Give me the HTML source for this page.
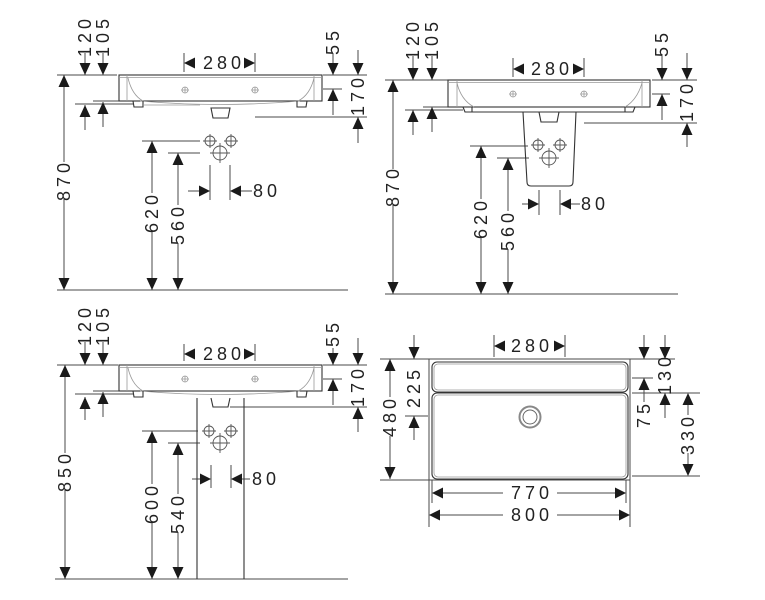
<!DOCTYPE html>
<html><head><meta charset="utf-8"><style>
html,body{margin:0;padding:0;background:#fff;}
svg{display:block;}
.l{stroke:#4a4a4a;stroke-width:1;fill:none;}
.s{stroke:#333;stroke-width:1.1;fill:none;}
.g{stroke:#999;stroke-width:0.8;fill:none;}
.h{stroke:#555;stroke-width:0.9;fill:none;}
text{font-family:"Liberation Sans",sans-serif;font-size:18px;letter-spacing:4px;fill:#222;}
.a{fill:#1a1a1a;}
</style></head><body>
<svg width="765" height="600" viewBox="0 0 765 600" xmlns="http://www.w3.org/2000/svg">
<defs>
<path id="ad" class="a" d="M-5.5,-12L5.5,-12L0,0Z"/>
<path id="au" class="a" d="M-5.5,12L5.5,12L0,0Z"/>
<path id="al" class="a" d="M11,-5.5L11,5.5L0,0Z"/>
<path id="ar" class="a" d="M-11,-5.5L-11,5.5L0,0Z"/>
<g id="hs" class="h"><circle r="5"/><path d="M-7,0H7M0,-7V7"/></g>
<g id="hb" class="h"><circle r="7"/><path d="M-10,0H10M0,-10V10"/></g>
<g id="ht" class="g"><circle r="3"/><path d="M-4,0H4M0,-3V3"/></g>
</defs>

<!-- ============ Q1 ============ -->
<path class="l" d="M57,75H117M323,75H367M64,75V162M64,198V290M57,290H348M85,53V75M85,105V130M103,53V75M103,102V127M93,101H119M75,104H133M333,53V75M358,50V75M333,89V115M323,89H342M358,117V143M255,117H367M184,53V72M255,53V72M142,141H200M152,141V193M152,231V290M168,153H200M178,153V205M178,243V290M210,165V200M230,165V200M188,191H199M241,191H252"/>
<!-- sink -->
<rect class="s" x="119" y="75" width="203" height="26"/>
<path class="g" d="M119,77.5H322M127,75V101M314,75V101M128,78Q132,95 143,101M314,78Q310,95 298,101M140,101Q220,108 300,101"/>
<path class="s" d="M133,101L134,107L143,107L143,101M297,101L297,107L306,107L307,101M211,108L213,118L228,118L230,108Z"/>
<path class="g" d="M143,105H200"/>
<use href="#ht" x="185" y="90"/><use href="#ht" x="255" y="90"/>
<use href="#hs" x="210" y="141"/><use href="#hs" x="231" y="141"/><use href="#hb" x="220" y="153"/>
<use href="#ad" x="85" y="75"/><use href="#ad" x="103" y="75"/><use href="#ad" x="333" y="75"/><use href="#ad" x="358" y="75"/><use href="#ad" x="64" y="290"/><use href="#ad" x="152" y="290"/><use href="#ad" x="178" y="290"/>
<use href="#au" x="64" y="75"/><use href="#au" x="85" y="105"/><use href="#au" x="103" y="102"/><use href="#au" x="333" y="89"/><use href="#au" x="358" y="117"/><use href="#au" x="152" y="141"/><use href="#au" x="178" y="153"/>
<use href="#al" x="184" y="63"/><use href="#al" x="230" y="191"/>
<use href="#ar" x="255" y="63"/><use href="#ar" x="210" y="191"/>
<text x="224" y="63" text-anchor="middle" dominant-baseline="central">280</text>
<text x="253" y="191" dominant-baseline="central">80</text>
<text transform="translate(85,36) rotate(-90)" text-anchor="middle" dominant-baseline="central">120</text>
<text transform="translate(103,36) rotate(-90)" text-anchor="middle" dominant-baseline="central">105</text>
<text transform="translate(333,41) rotate(-90)" text-anchor="middle" dominant-baseline="central">55</text>
<text transform="translate(358,95) rotate(-90)" text-anchor="middle" dominant-baseline="central">170</text>
<text transform="translate(64,180) rotate(-90)" text-anchor="middle" dominant-baseline="central">870</text>
<text transform="translate(152,212) rotate(-90)" text-anchor="middle" dominant-baseline="central">620</text>
<text transform="translate(178,224) rotate(-90)" text-anchor="middle" dominant-baseline="central">560</text>

<!-- ============ Q2 ============ -->
<path class="l" d="M385,80H448M652,80H697M393,80V169M393,204V294M385,294H678M413,56V80M413,110V135M432,56V80M432,107V132M423,107H463M405,110H463M662,54V80M687,53V80M662,94V120M652,94H670M687,123V147M584,123H697M513,58V77M584,58V77M470,146H528M481,146V199M481,238V294M497,158H529M508,158V211M508,249V294M539,190V215M560,190V215M522,204H528M571,204H580"/>
<rect class="s" x="448" y="80" width="202" height="27"/>
<path class="g" d="M448,82.5H650M457,80V107M642,80V107M457,83Q461,100 474,107M642,83Q637,100 625,107"/>
<path class="s" d="M463,107L465,112L633,112L635,107M472,107V112M625,107V112"/>
<path class="s" d="M523,112L527,182Q527,186 531,186L569,186Q573,186 573,182L576,112M539,112L541,122L557,122L559,112"/>
<use href="#ht" x="513" y="94"/><use href="#ht" x="584" y="94"/>
<use href="#hs" x="538" y="145"/><use href="#hs" x="560" y="145"/><use href="#hb" x="549" y="158"/>
<use href="#ad" x="413" y="80"/><use href="#ad" x="432" y="80"/><use href="#ad" x="662" y="80"/><use href="#ad" x="687" y="80"/><use href="#ad" x="393" y="294"/><use href="#ad" x="481" y="294"/><use href="#ad" x="508" y="294"/>
<use href="#au" x="393" y="80"/><use href="#au" x="413" y="110"/><use href="#au" x="432" y="107"/><use href="#au" x="662" y="94"/><use href="#au" x="687" y="123"/><use href="#au" x="481" y="146"/><use href="#au" x="508" y="158"/>
<use href="#al" x="513" y="69"/><use href="#al" x="560" y="204"/>
<use href="#ar" x="584" y="69"/><use href="#ar" x="539" y="204"/>
<text x="552" y="69" text-anchor="middle" dominant-baseline="central">280</text>
<text x="581" y="204" dominant-baseline="central">80</text>
<text transform="translate(413,39) rotate(-90)" text-anchor="middle" dominant-baseline="central">120</text>
<text transform="translate(432,39) rotate(-90)" text-anchor="middle" dominant-baseline="central">105</text>
<text transform="translate(662,43) rotate(-90)" text-anchor="middle" dominant-baseline="central">55</text>
<text transform="translate(687,101) rotate(-90)" text-anchor="middle" dominant-baseline="central">170</text>
<text transform="translate(393,186) rotate(-90)" text-anchor="middle" dominant-baseline="central">870</text>
<text transform="translate(481,218) rotate(-90)" text-anchor="middle" dominant-baseline="central">620</text>
<text transform="translate(508,230) rotate(-90)" text-anchor="middle" dominant-baseline="central">560</text>

<!-- ============ Q3 ============ -->
<path class="l" d="M57,365H118M323,365H367M65,365V453M65,489V579M55,579H348M85,342V365M85,397V420M103,342V365M103,392V417M93,391H119M75,394H133M333,348V365M358,338V365M333,379V405M323,379H342M358,407V432M230,407H367M184,344V361M255,344V361M142,431H198M152,431V484M152,522V579M168,443H200M178,443V494M178,532V579M211,465V488M231,465V488M192,479H200M242,479H250"/>
<rect class="s" x="119" y="365" width="203" height="26"/>
<path class="g" d="M119,367.5H322M127,365V391M314,365V391M128,368Q132,385 143,391M314,368Q310,385 298,391M140,391Q220,398 300,391"/>
<path class="s" d="M133,391L134,397L143,397L143,391M297,391L297,397L306,397L307,391M211,398L213,407L228,407L230,398"/>
<path class="s" d="M197,398V579M244,398V579"/>
<use href="#ht" x="185" y="379"/><use href="#ht" x="255" y="379"/>
<use href="#hs" x="209" y="431"/><use href="#hs" x="231" y="431"/><use href="#hb" x="220" y="443"/>
<use href="#ad" x="85" y="365"/><use href="#ad" x="103" y="365"/><use href="#ad" x="333" y="365"/><use href="#ad" x="358" y="365"/><use href="#ad" x="65" y="579"/><use href="#ad" x="152" y="579"/><use href="#ad" x="178" y="579"/>
<use href="#au" x="65" y="365"/><use href="#au" x="85" y="397"/><use href="#au" x="103" y="392"/><use href="#au" x="333" y="379"/><use href="#au" x="358" y="407"/><use href="#au" x="152" y="431"/><use href="#au" x="178" y="443"/>
<use href="#al" x="184" y="354"/><use href="#al" x="231" y="479"/>
<use href="#ar" x="255" y="354"/><use href="#ar" x="211" y="479"/>
<text x="224" y="354" text-anchor="middle" dominant-baseline="central">280</text>
<text x="252" y="479" dominant-baseline="central">80</text>
<text transform="translate(85,325) rotate(-90)" text-anchor="middle" dominant-baseline="central">120</text>
<text transform="translate(103,325) rotate(-90)" text-anchor="middle" dominant-baseline="central">105</text>
<text transform="translate(333,333) rotate(-90)" text-anchor="middle" dominant-baseline="central">55</text>
<text transform="translate(358,386) rotate(-90)" text-anchor="middle" dominant-baseline="central">170</text>
<text transform="translate(65,471) rotate(-90)" text-anchor="middle" dominant-baseline="central">850</text>
<text transform="translate(152,503) rotate(-90)" text-anchor="middle" dominant-baseline="central">600</text>
<text transform="translate(178,513) rotate(-90)" text-anchor="middle" dominant-baseline="central">540</text>

<!-- ============ Q4 ============ -->
<path class="l" d="M380,359H675M380,480H630M429,359V527M630,359V527M432,480V503M626,480V503M390,359V397M390,436V479M414,335V359M414,416V440M405,416H428M494,335V357M565,335V357M644,335V359M665,335V359M665,393V418M632,393H700M644,378V402M632,378H653M688,405V415M688,453V465M632,476H700M443,493H503M557,493H615M440,515H503M557,515H619"/>
<rect class="s" x="432" y="362" width="196" height="30" rx="5"/>
<rect class="s" x="432" y="393" width="196" height="86" rx="5"/>
<rect class="g" x="434" y="364" width="192" height="26" rx="4"/>
<rect class="g" x="434" y="395" width="192" height="82" rx="4"/>
<circle cx="530" cy="417" r="10.5" stroke="#888" stroke-width="2" fill="none"/>
<circle cx="530" cy="417" r="7" stroke="#666" stroke-width="1" fill="none"/>
<use href="#ad" x="414" y="359"/><use href="#ad" x="644" y="359"/><use href="#ad" x="665" y="359"/><use href="#ad" x="390" y="479"/><use href="#ad" x="688" y="476"/>
<use href="#au" x="390" y="359"/><use href="#au" x="414" y="416"/><use href="#au" x="665" y="393"/><use href="#au" x="644" y="378"/><use href="#au" x="688" y="393"/>
<use href="#al" x="494" y="346"/><use href="#al" x="432" y="493"/><use href="#al" x="429" y="515"/>
<use href="#ar" x="565" y="346"/><use href="#ar" x="626" y="493"/><use href="#ar" x="630" y="515"/>
<text x="532" y="346" text-anchor="middle" dominant-baseline="central">280</text>
<text x="532" y="493" text-anchor="middle" dominant-baseline="central">770</text>
<text x="532" y="515" text-anchor="middle" dominant-baseline="central">800</text>
<text transform="translate(390,416) rotate(-90)" text-anchor="middle" dominant-baseline="central">480</text>
<text transform="translate(414,387) rotate(-90)" text-anchor="middle" dominant-baseline="central">225</text>
<text transform="translate(665,374) rotate(-90)" text-anchor="middle" dominant-baseline="central">130</text>
<text transform="translate(644,414) rotate(-90)" text-anchor="middle" dominant-baseline="central">75</text>
<text transform="translate(688,434) rotate(-90)" text-anchor="middle" dominant-baseline="central">330</text>
</svg>
</body></html>
